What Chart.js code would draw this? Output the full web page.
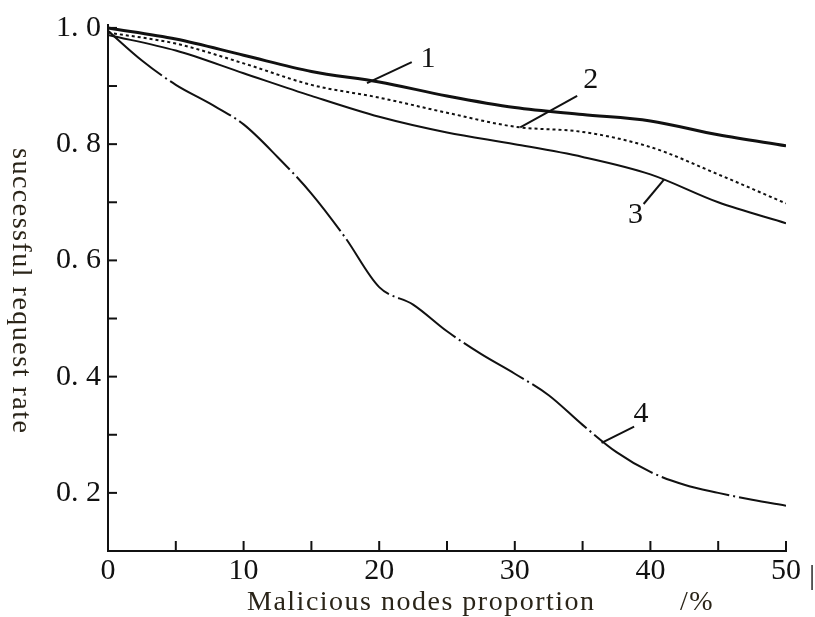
<!DOCTYPE html>
<html><head><meta charset="utf-8">
<script src="https://cdn.jsdelivr.net/npm/chart.js@4/dist/chart.umd.min.js"></script>
<style>html,body{margin:0;padding:0;background:#fff;}#wrap{width:815px;height:617px;}</style>
</head><body><div id="wrap"><canvas id="c" width="815" height="617"></canvas></div>
<script>
// ---- data ----
const xValues  = [0, 5, 10, 15, 20, 25, 30, 35, 40, 45, 50];
const curve1   = [1.000, 0.981, 0.953, 0.925, 0.907, 0.883, 0.863, 0.851, 0.840, 0.816, 0.797];
const curve2   = [0.992, 0.973, 0.939, 0.902, 0.880, 0.854, 0.830, 0.821, 0.795, 0.748, 0.698];
const curve3   = [0.988, 0.961, 0.922, 0.883, 0.847, 0.820, 0.800, 0.778, 0.748, 0.700, 0.664];
const xValues4 = [0, 2.5, 5, 7.5, 10, 12.5, 15, 17.5, 20, 22.5, 25, 27.5, 30, 32.5, 35, 37.5, 40, 42.5, 45, 47.5, 50];
const curve4   = [0.995, 0.944, 0.902, 0.870, 0.834, 0.778, 0.715, 0.639, 0.554, 0.524, 0.478, 0.439, 0.405, 0.368, 0.317, 0.270, 0.236, 0.214, 0.200, 0.188, 0.178];
const seriesNames = ['1', '2', '3', '4'];

const xTickValues = [0, 10, 20, 30, 40, 50];
const xTickLabels = ['0', '10', '20', '30', '40', '50'];
const xTickMarks  = [5, 10, 15, 20, 25, 30, 35, 40, 45, 50];
const yTickValues = [0.2, 0.4, 0.6, 0.8, 1.0];
const yTickLabels = ['0. 2', '0. 4', '0. 6', '0. 8', '1. 0'];
const yTickMarks  = [0.2, 0.3, 0.4, 0.5, 0.6, 0.7, 0.8, 0.9, 1.0];

const xTitle = 'Malicious nodes proportion';
const xUnit  = '/%';
const yTitle = 'successful request rate';

// curve labels with leader lines (data coordinates)
const labelText  = ['1', '2', '3', '4'];
const labelX     = [23.6, 35.6, 38.9, 39.3];
const labelY     = [0.947, 0.910, 0.678, 0.336];
const leaderX0   = [19.1, 30.4, 41.0, 36.4];
const leaderY0   = [0.905, 0.829, 0.739, 0.286];
const leaderX1   = [22.4, 34.6, 39.5, 38.8];
const leaderY1   = [0.941, 0.883, 0.697, 0.314];

const SERIF = '"Liberation Serif", "Times New Roman", "DejaVu Serif", serif';
const pts = (xs, ys) => xs.map((x, i) => ({x, y: ys[i]}));

const decor = {
  id: 'decor',
  afterDraw(chart) {
    const {ctx, scales: {x, y}} = chart;
    ctx.save();
    ctx.strokeStyle = '#111';
    ctx.lineWidth = 2;
    xTickMarks.forEach(v => {
      const px = x.getPixelForValue(v);
      ctx.beginPath(); ctx.moveTo(px, y.bottom); ctx.lineTo(px, y.bottom - 10); ctx.stroke();
    });
    yTickMarks.forEach(v => {
      const py = y.getPixelForValue(v);
      ctx.beginPath(); ctx.moveTo(x.left, py); ctx.lineTo(x.left + 9, py); ctx.stroke();
    });
    // leaders
    labelText.forEach((t, i) => {
      ctx.beginPath();
      ctx.moveTo(x.getPixelForValue(leaderX0[i]), y.getPixelForValue(leaderY0[i]));
      ctx.lineTo(x.getPixelForValue(leaderX1[i]), y.getPixelForValue(leaderY1[i]));
      ctx.stroke();
    });
    ctx.fillStyle = '#111';
    ctx.font = '30px ' + SERIF;
    ctx.textAlign = 'center';
    ctx.textBaseline = 'middle';
    labelText.forEach((t, i) => {
      ctx.fillText(t, x.getPixelForValue(labelX[i]), y.getPixelForValue(labelY[i]));
    });
    // stray bar at the right of the x axis, as in the source image
    ctx.font = '28px ' + SERIF;
    ctx.fillText('|', 812, 577);
    // axis titles
    ctx.fillStyle = '#2a2418';
    ctx.letterSpacing = '1.5px';
    ctx.textAlign = 'left';
    ctx.textBaseline = 'alphabetic';
    ctx.fillText(xTitle, 247, 610);
    ctx.fillText(xUnit, 680, 610);
    ctx.translate(13, 148);
    ctx.rotate(Math.PI / 2);
    ctx.fillText(yTitle, 0, 0);
    ctx.restore();
  }
};

new Chart(document.getElementById('c'), {
  type: 'line',
  data: {
    datasets: [
      {label: seriesNames[0], data: pts(xValues, curve1), borderColor: '#111', borderWidth: 3, pointRadius: 0, cubicInterpolationMode: 'monotone'},
      {label: seriesNames[1], data: pts(xValues, curve2), borderColor: '#111', borderWidth: 2, borderDash: [3, 3], pointRadius: 0, cubicInterpolationMode: 'monotone'},
      {label: seriesNames[2], data: pts(xValues, curve3), borderColor: '#111', borderWidth: 2, pointRadius: 0, cubicInterpolationMode: 'monotone'},
      {label: seriesNames[3], data: pts(xValues4, curve4), borderColor: '#111', borderWidth: 2, borderDash: [70, 4, 2, 4], pointRadius: 0, cubicInterpolationMode: 'monotone'}
    ]
  },
  options: {
    responsive: false,
    animation: false,
    devicePixelRatio: 1,
    layout: {padding: {left: 0, top: 16, right: 29, bottom: 0}},
    plugins: {legend: {display: false}, tooltip: {enabled: false}},
    scales: {
      x: {
        type: 'linear', min: 0, max: 50,
        afterBuildTicks: s => { s.ticks = xTickValues.map(v => ({value: v})); },
        afterFit: s => { s.height = 66; },
        ticks: {callback: (v, i) => xTickLabels[i], font: {family: SERIF, size: 30}, color: '#111', padding: 2, maxRotation: 0},
        grid: {display: false, drawTicks: false},
        border: {display: true, color: '#111', width: 2}
      },
      y: {
        type: 'linear', min: 0.1, max: 1.005,
        afterBuildTicks: s => { s.ticks = yTickValues.map(v => ({value: v})); },
        afterFit: s => { s.width = 108; },
        ticks: {callback: (v, i) => yTickLabels[i], font: {family: SERIF, size: 30}, color: '#111', padding: 7},
        grid: {display: false, drawTicks: false},
        border: {display: true, color: '#111', width: 2}
      }
    }
  },
  plugins: [decor]
});
</script>
</body></html>
